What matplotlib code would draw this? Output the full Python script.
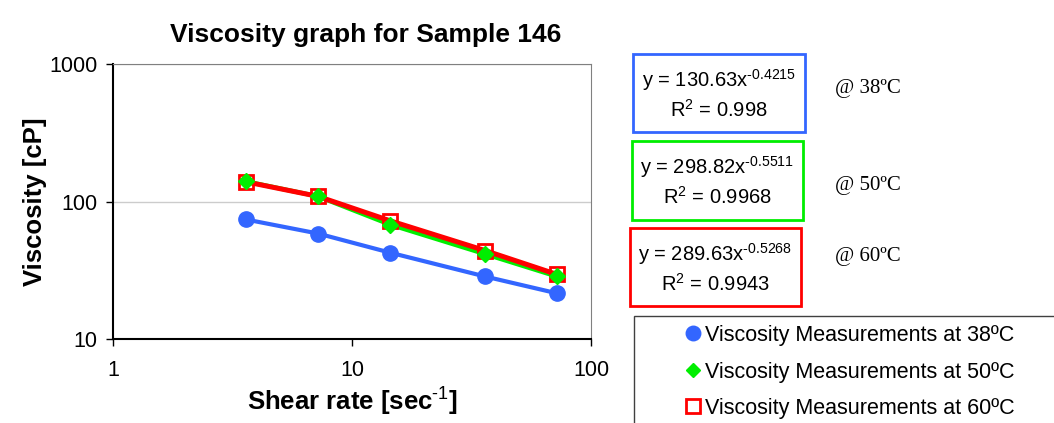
import matplotlib
matplotlib.use("Agg")
import matplotlib.pyplot as plt
from matplotlib.patches import Rectangle

plt.rcParams['font.family'] = ['Liberation Sans', 'DejaVu Sans']
plt.rcParams['mathtext.fontset'] = 'custom'
plt.rcParams['mathtext.rm'] = 'Liberation Sans'
plt.rcParams['mathtext.bf'] = 'Liberation Sans:bold'

# shear rate [1/s]
shear = [3.6, 7.2, 14.4, 36, 72]
# viscosity [cP]
visc_38 = [74, 58.5, 42.5, 28.5, 21.5]
visc_50 = [140, 109, 68, 41.5, 28.5]
visc_60 = [139, 109, 72.5, 44, 29.5]

labels = ["Viscosity Measurements at 38ºC",
          "Viscosity Measurements at 50ºC",
          "Viscosity Measurements at 60ºC"]
equations = [("130.63", "-0.4215", "0.998"),
             ("298.82", "-0.5511", "0.9968"),
             ("289.63", "-0.5268", "0.9943")]
temps = ["@ 38ºC", "@ 50ºC", "@ 60ºC"]

blue = '#3366ff'
green = '#00ee00'
red = '#ff0000'

fig = plt.figure(figsize=(10.54, 4.23), dpi=100)
W, H = 1054, 423
ax = fig.add_axes([113 / W, 1 - 339 / H, (591 - 113) / W, (339 - 64) / H])

# lines
ax.plot(shear, visc_38, color=blue, lw=3, zorder=2)
ax.plot(shear, visc_50, color=green, lw=3.2, zorder=3)
ax.plot(shear, visc_60, color=red, lw=3.6, zorder=4)
# markers
ax.plot(shear, visc_38, 'o', color=blue, ms=11, ls='none', label=labels[0], zorder=5)
ax.plot(shear, visc_50, 'D', color=green, ms=8, ls='none', label=labels[1], zorder=5)
ax.plot(shear, visc_60, 's', mfc='white', mec=red, mew=2, ms=10.5, ls='none',
        label=labels[2], zorder=3.5)

ax.set_xscale('log')
ax.set_yscale('log')
ax.set_xlim(1, 100)
ax.set_ylim(10, 1000)
ax.set_xticks([1, 10, 100])
ax.set_xticklabels(['1', '10', '100'])
ax.set_yticks([10, 100, 1000])
ax.set_yticklabels(['10', '100', '1000'])
ax.minorticks_off()
ax.tick_params(labelsize=15.5, length=5, width=1)
ax.tick_params(axis='x', pad=10)
ax.tick_params(axis='y', pad=6)
ax.yaxis.grid(True, color='#cccccc', lw=1)
ax.set_axisbelow(True)
ax.spines['left'].set_linewidth(1.5)
ax.spines['bottom'].set_linewidth(1.5)
ax.spines['top'].set_color('#808080')
ax.spines['right'].set_color('#808080')

ax.set_title("Viscosity graph for Sample 146", fontsize=19, fontweight='bold', pad=16,
             x=0.528)
ax.set_xlabel(r"Shear rate [sec$^{\mathbf{\text{-1}}}$]", fontsize=18.5, fontweight='bold',
              labelpad=2)
ax.set_ylabel("Viscosity [cP]", fontsize=18.5, fontweight='bold', labelpad=2)

# equation boxes
boxes = [(633, 54, 805, 132, blue), (632, 141, 803, 220, green), (630, 228, 801, 306, red)]
temp_y = [88, 185, 256]
for (x0, y0, x1, y1, c), (a, b, r2), t, ty in zip(boxes, equations, temps, temp_y):
    fig.patches.append(Rectangle((x0 / W, 1 - y1 / H), (x1 - x0) / W, (y1 - y0) / H,
                                 transform=fig.transFigure, fill=False, ec=c, lw=2))
    cx = (x0 + x1) / 2 / W
    fig.text(cx, 1 - (y0 + 26) / H, "y = %sx$^{\\text{%s}}$" % (a, b), fontsize=14.5,
             ha='center', va='center')
    fig.text(cx, 1 - (y0 + 56) / H, "R$^{\\text{2}}$ = %s" % r2, fontsize=14.5,
             ha='center', va='center')
    fig.text(835 / W, 1 - ty / H, t, fontsize=15, family='Liberation Serif',
             ha='left', va='center')

# legend frame
fig.patches.append(Rectangle((634 / W, -0.05), 0.5, 1 - 316 / H + 0.05,
                             transform=fig.transFigure, fill=False, ec='#404040', lw=1))
fig.legend(loc='upper left', bbox_to_anchor=(685 / W, 1 - 325 / H), frameon=False,
           fontsize=15.5, handlelength=0.7, handletextpad=0.25, labelspacing=0.72,
           borderpad=0, borderaxespad=0, markerscale=0.95)

fig.savefig("out.png", dpi=100)
